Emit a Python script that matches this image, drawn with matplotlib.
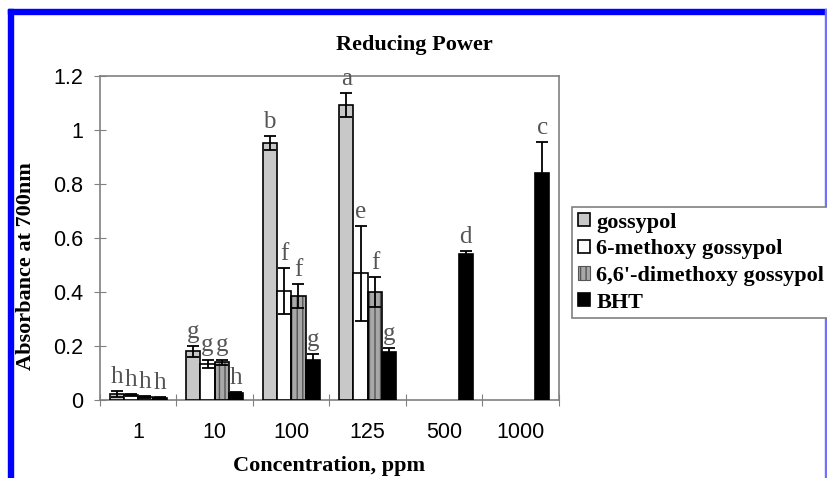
import numpy as np
import matplotlib
matplotlib.use("Agg")
import matplotlib.pyplot as plt
from matplotlib.patches import Rectangle

# data
concentrations = ['1', '10', '100', '125', '500', '1000']
series_names = ['gossypol', '6-methoxy gossypol', "6,6'-dimethoxy gossypol", 'BHT']

gossypol = [0.022, 0.18, 0.952, 1.093, np.nan, np.nan]
gossypol_err = [0.01, 0.02, 0.026, 0.043, np.nan, np.nan]
methoxy = [0.018, 0.135, 0.404, 0.469, np.nan, np.nan]
methoxy_err = [0.005, 0.015, 0.085, 0.176, np.nan, np.nan]
dimethoxy = [0.012, 0.14, 0.385, 0.40, np.nan, np.nan]
dimethoxy_err = [0.004, 0.01, 0.043, 0.054, np.nan, np.nan]
bht = [0.008, 0.026, 0.15, 0.178, 0.54, 0.842]
bht_err = [0.004, 0.005, 0.02, 0.015, 0.013, 0.115]

gossypol_letters = ['h', 'g', 'b', 'a', '', '']
methoxy_letters = ['h', 'g', 'f', 'e', '', '']
dimethoxy_letters = ['h', 'g', 'f', 'f', '', '']
bht_letters = ['h', 'h', 'g', 'g', 'd', 'c']

values = [gossypol, methoxy, dimethoxy, bht]
errors = [gossypol_err, methoxy_err, dimethoxy_err, bht_err]
letters = [gossypol_letters, methoxy_letters, dimethoxy_letters, bht_letters]
colors = ['#c8c8c8', 'white', '#a8a8a8', 'black']

fig = plt.figure(figsize=(8.28, 4.78), dpi=100)
ax = fig.add_axes([100/828, 1-400/478, 459/828, 324/478])

x = np.arange(len(concentrations))
w = 0.1875
handles = []
for i in range(4):
    pos = x + (i - 1.5) * w
    h = np.array(values[i])
    if i == 2:
        # striped fill first, then the black outline on top
        ax.bar(pos, h, w, color=colors[i], edgecolor='#555555', hatch='|||', linewidth=0, zorder=2)
        ax.bar(pos, h, w, fill=False, edgecolor='black', linewidth=1.2, zorder=3)
        hdl = Rectangle((0, 0), 1, 1, facecolor=colors[i], edgecolor='#555555', hatch='|||', linewidth=0.8)
    else:
        hdl = ax.bar(pos, h, w, color=colors[i], edgecolor='black', linewidth=1.2, zorder=3)
    handles.append(hdl)
    ax.errorbar(pos, h, yerr=errors[i], fmt='none', ecolor='black', elinewidth=1.3,
                capsize=4, capthick=1.3, zorder=4)
    for j in range(len(x)):
        if letters[i][j]:
            ax.text(pos[j], h[j] + errors[i][j] + 0.03, letters[i][j], ha='center', va='baseline',
                    family='Liberation Serif', fontsize=18, color='#555555')

ax.set_xlim(-0.5, 5.5)
ax.set_ylim(0, 1.2)
ax.set_yticks([0, 0.2, 0.4, 0.6, 0.8, 1.0, 1.2])
ax.set_yticklabels(['0', '0.2', '0.4', '0.6', '0.8', '1', '1.2'])
ax.set_xticks(np.arange(-0.5, 6, 1))
ax.set_xticklabels([])
ax.set_xticks(x, minor=True)
ax.set_xticklabels(concentrations, minor=True)
ax.tick_params(axis='x', which='minor', length=0, pad=16)
ax.tick_params(axis='both', which='major', direction='inout', length=8, color='#808080')
ax.tick_params(axis='y', pad=8)
for lab in ax.get_xticklabels(minor=True) + ax.get_yticklabels():
    lab.set_family('Liberation Sans')
    lab.set_fontsize(15.5)
for s in ax.spines.values():
    s.set_color('#808080')
    s.set_linewidth(1.2)

ax.set_ylabel('Absorbance at 700nm', family='Liberation Serif', fontweight='bold', fontsize=16)
ax.yaxis.set_label_coords(-64/459, 134/324)
ax.set_xlabel('Concentration, ppm', family='Liberation Serif', fontweight='bold', fontsize=16, labelpad=9)
fig.text(0.5, 1-45/478, 'Reducing Power', ha='center', va='center', family='Liberation Serif',
         fontweight='bold', fontsize=16)

leg = fig.legend(handles, series_names, loc='upper left', bbox_to_anchor=(572/828, 1-207/478),
                 prop={'family': 'Liberation Serif', 'weight': 'bold', 'size': 16},
                 fancybox=False, edgecolor='#808080', framealpha=1, handlelength=0.55, handleheight=0.55,
                 handletextpad=0.3, labelspacing=0.3, borderpad=0.25, borderaxespad=0)
leg.get_frame().set_linewidth(1.2)

# blue frame around the picture
fig.add_artist(Rectangle((8/828, 0), 5/828, 1-9/478, transform=fig.transFigure, color='#0000ff'))
fig.add_artist(Rectangle((8/828, 1-14/478), 819/828, 5/478, transform=fig.transFigure, color='#0000ff'))
fig.add_artist(Rectangle((825/828, 0), 2/828, 1-9/478, transform=fig.transFigure, color='#7070ff'))

fig.savefig('out.png', dpi=100)
